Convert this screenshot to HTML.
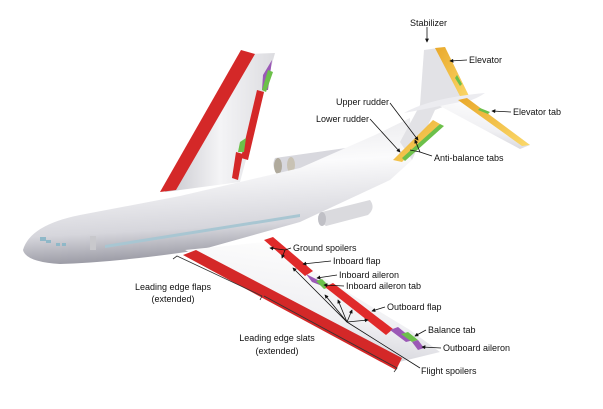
<!DOCTYPE html>
<html><head><meta charset="utf-8"><style>
html,body{margin:0;padding:0;background:#fff;width:603px;height:409px;overflow:hidden}
svg{display:block}
text{font-family:"Liberation Sans",sans-serif;font-size:9px;fill:#111}
</style></head><body>
<svg width="603" height="409" viewBox="0 0 603 409" xmlns="http://www.w3.org/2000/svg">
<defs>
<linearGradient id="fus" x1="0" y1="0" x2="0.15" y2="1">
<stop offset="0" stop-color="#e4e4e8"/><stop offset="0.4" stop-color="#fbfbfc"/><stop offset="0.8" stop-color="#d6d6dc"/><stop offset="1" stop-color="#9a9aa4"/></linearGradient>
<linearGradient id="wing" x1="0" y1="0" x2="1" y2="0">
<stop offset="0" stop-color="#c6c6cc"/><stop offset="0.5" stop-color="#f4f4f6"/><stop offset="1" stop-color="#dcdce0"/></linearGradient>
<linearGradient id="wing2" x1="0" y1="1" x2="0.3" y2="0">
<stop offset="0" stop-color="#c4c4cc"/><stop offset="0.5" stop-color="#f0f0f3"/><stop offset="1" stop-color="#fcfcfc"/></linearGradient>
<linearGradient id="yel" x1="0" y1="0" x2="1" y2="1"><stop offset="0" stop-color="#e9a82a"/><stop offset="1" stop-color="#fbd96a"/></linearGradient>
<marker id="a" viewBox="0 0 6 6" refX="5" refY="3" markerWidth="5" markerHeight="5" orient="auto"><path d="M0,0L6,3L0,6z" fill="#111"/></marker>
</defs>

<!-- far wing -->
<path d="M165,192 L245,54 L275,53 L262,100 L240,182 Z" fill="url(#wing)"/>
<path d="M160,192 L241,50 L255,54 L176,190 Z" fill="#d42828"/>
<path d="M263,75 L272,60 L268,90 L262,90 Z" fill="#9b59b6"/>
<path d="M262,90 L268,70 L273,72 L266,92 Z" fill="#6cc04a"/>
<path d="M257,90 L264,92 L248,160 L241,158 Z" fill="#d42828"/>
<path d="M240,142 L246,138 L244,152 L238,152 Z" fill="#6cc04a"/>
<path d="M236,152 L243,154 L238,180 L232,178 Z" fill="#d42828"/>

<!-- rear engines -->
<path d="M275,158 L360,146 Q368,152 360,160 L280,175 Q270,168 275,158Z" fill="#d8d8de"/>
<ellipse cx="278" cy="166" rx="4" ry="8" fill="#b0aa9c"/>
<ellipse cx="291" cy="165" rx="4" ry="8" fill="#c8c2b4"/>

<!-- fuselage -->
<path d="M23,250 Q30,225 80,215 L180,196 L300,168 L375,135 L410,118 L412,160 L390,180 L300,222 L200,250 Q120,262 60,264 Q26,262 23,250Z" fill="url(#fus)"/>

<!-- tail fin & stab -->
<path d="M400,142 L420,105 L424,50 L445,47 L466,98 L435,110 L412,160Z" fill="#e2e2e6"/>
<path d="M435,48 L445,47 L470,98 L462,100Z" fill="url(#yel)"/>
<path d="M457,75 L462,84 L460,86 L455,78Z" fill="#6cc04a"/>
<path d="M404,113 Q430,98 485,93 Q470,104 440,106 L420,110Z" fill="#ececf0"/>
<path d="M440,106 L470,100 L530,145 L520,149 Z" fill="url(#wing2)"/>
<path d="M458,100 L467,98 L530,145 L522,146Z" fill="url(#yel)"/>
<path d="M480,108 L490,112 L488,114 L478,110Z" fill="#6cc04a"/>
<path d="M393,160 L433,120 L440,124 L402,162Z" fill="url(#yel)"/>
<path d="M402,158 L440,124 L444,126 L405,161Z" fill="#6cc04a"/>

<!-- near engine -->
<path d="M322,212 L370,200 Q376,208 368,215 L326,226 Q316,220 322,212Z" fill="#dadade"/>
<ellipse cx="322" cy="219" rx="4" ry="7" fill="#c0c0c6"/>

<!-- windows -->
<g fill="#8fb8c8">
<rect x="90" y="236" width="6" height="14" fill="#c8c8cc"/>
<path d="M105,245 L300,214 L300,217 L105,248Z" fill="#a8c6d2"/>
<rect x="40" y="237" width="6" height="4"/><rect x="46" y="240" width="5" height="3"/><rect x="56" y="243" width="4" height="3"/><rect x="62" y="243" width="4" height="3"/>
</g>

<!-- near wing -->
<path d="M185,250 L265,242 L410,330 L440,352 L395,363 Z" fill="url(#wing2)"/>
<path d="M183,255 L196,250 L402,358 L396,370 Z" fill="#d42828"/>
<path d="M264,240 L273,237 L313,271 L305,276Z" fill="#e02a2a"/>
<path d="M306,274 L320,281 L325,287 L312,282Z" fill="#9b59b6"/>
<path d="M316,281 L322,279 L330,287 L324,289Z" fill="#6cc04a"/>
<path d="M325,287 L333,283 L393,329 L386,335Z" fill="#e02a2a"/>
<path d="M390,330 L398,327 L414,340 L406,342Z" fill="#9b59b6"/>
<path d="M401,334 L408,332 L418,340 L412,342Z" fill="#6cc04a"/>
<path d="M412,342 L418,340 L424,348 L418,350Z" fill="#9b59b6"/>

<!-- dimension brackets -->
<g stroke="#333" stroke-width="0.8" fill="none">
<path d="M173,259 L177,256 L262,296 L260,300"/>
<path d="M264,296 L397,368 L394,372"/>
</g>

<!-- leaders -->
<g stroke="#111" stroke-width="0.8" fill="none">
<path d="M427,27 L427,42" marker-end="url(#a)"/>
<path d="M467,60 L450,61" marker-end="url(#a)"/>
<path d="M511,112 L492,111" marker-end="url(#a)"/>
<path d="M390,103 L418,140" marker-end="url(#a)"/>
<path d="M370,119 L400,152" marker-end="url(#a)"/>
<path d="M432,156 L420,152 L415,140" marker-end="url(#a)"/>
<path d="M420,152 L410,150"/>
<path d="M291,248 L285,250 L270,248" marker-end="url(#a)"/>
<path d="M285,250 L282,258" marker-end="url(#a)"/>
<path d="M331,261 L303,264" marker-end="url(#a)"/>
<path d="M337,275 L317,278" marker-end="url(#a)"/>
<path d="M344,286 L324,285" marker-end="url(#a)"/>
<path d="M385,307 L372,311" marker-end="url(#a)"/>
<path d="M426,330 L415,336" marker-end="url(#a)"/>
<path d="M441,348 L422,347" marker-end="url(#a)"/>
<path d="M420,368 L347,322 L293,268" marker-end="url(#a)"/>
<path d="M347,322 L325,295" marker-end="url(#a)"/>
<path d="M347,322 L338,300" marker-end="url(#a)"/>
<path d="M347,322 L352,310" marker-end="url(#a)"/>
<path d="M347,322 L368,320" marker-end="url(#a)"/>
</g>

<!-- labels -->
<text x="410" y="26">Stabilizer</text>
<text x="469" y="63">Elevator</text>
<text x="513" y="115">Elevator tab</text>
<text x="336" y="105">Upper rudder</text>
<text x="316" y="122">Lower rudder</text>
<text x="434" y="161">Anti-balance tabs</text>
<text x="293" y="251">Ground spoilers</text>
<text x="333" y="264">Inboard flap</text>
<text x="339" y="278">Inboard aileron</text>
<text x="346" y="289">Inboard aileron tab</text>
<text x="387" y="310">Outboard flap</text>
<text x="428" y="333">Balance tab</text>
<text x="443" y="351">Outboard aileron</text>
<text x="421" y="374">Flight spoilers</text>
<text x="173" y="290" text-anchor="middle">Leading edge flaps</text>
<text x="173" y="302" text-anchor="middle">(extended)</text>
<text x="277" y="341" text-anchor="middle">Leading edge slats</text>
<text x="277" y="354" text-anchor="middle">(extended)</text>
</svg>
</body></html>
